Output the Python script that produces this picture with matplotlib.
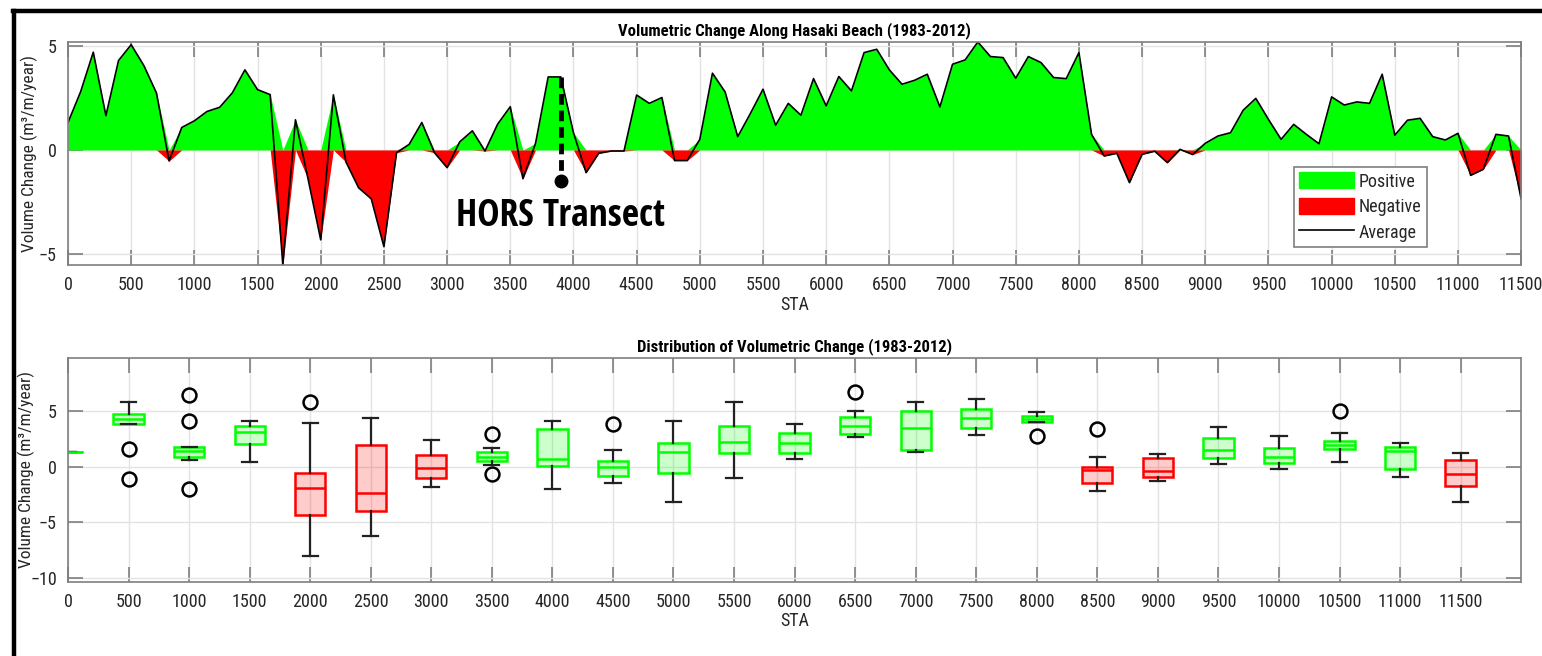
import numpy as np
import matplotlib.pyplot as plt
from matplotlib.patches import Patch
from matplotlib.lines import Line2D

plt.rcParams['font.family'] = ['Roboto Condensed', 'Liberation Sans', 'DejaVu Sans']

# average volume change every 100 m along the beach
sta = np.arange(0, 11600, 100)
avg = np.array([
    1.32, 2.8, 4.7, 1.65, 4.3, 5.06, 4.06, 2.74, -0.53, 1.08,
    1.4, 1.85, 2.05, 2.74, 3.85, 2.9, 2.66, -5.53, 1.45, -1.4,
    -4.32, 2.65, -0.58, -1.82, -2.35, -4.65, -0.13, 0.27, 1.32, -0.13,
    -0.85, 0.39, 0.92, -0.05, 1.24, 2.08, -1.38, 0.32, 3.51, 3.51,
    0.83, -1.09, -0.16, -0.05, -0.05, 2.64, 2.24, 2.52, -0.51, -0.51,
    0.51, 3.69, 2.79, 0.64, 1.75, 2.92, 1.19, 2.24, 1.67, 3.43,
    2.12, 3.53, 2.84, 4.68, 4.84, 3.85, 3.16, 3.35, 3.64, 2.07,
    4.12, 4.33, 5.19, 4.49, 4.44, 3.45, 4.49, 4.2, 3.48, 3.43,
    4.68, 0.75, -0.29, -0.16, -1.57, -0.21, -0.06, -0.61, 0.03, -0.22,
    0.32, 0.67, 0.83, 1.91, 2.48, 1.47, 0.51, 1.23, 0.75, 0.3,
    2.55, 2.16, 2.31, 2.24, 3.64, 0.71, 1.43, 1.52, 0.64, 0.48,
    0.8, -1.22, -0.93, 0.75, 0.67, -2.37,
])

# box statistics every 500 m
box_pos = np.arange(0, 12000, 500)
whislo = [1.31, 3.82, 0.6, 0.42, -8.0, -6.21, -1.85, 0.12, -2.0, -1.49, -3.16, -0.99,
          0.69, 2.69, 1.31, 2.84, 3.97, -2.18, -1.28, 0.24, -0.24, 0.45, -0.9, -3.16]
q1 = [1.31, 3.82, 0.84, 2.03, -4.36, -3.94, -1.01, 0.51, 0.06, -0.81, -0.54, 1.19,
      1.25, 2.96, 1.46, 3.49, 3.97, -1.46, -0.96, 0.75, 0.36, 1.55, -0.18, -1.73]
med = [1.31, 4.27, 1.4, 3.13, -1.88, -2.36, -0.15, 0.9, 0.69, 0.0, 1.31, 2.18,
       2.15, 3.67, 3.49, 4.33, 4.27, -0.33, -0.36, 1.46, 0.84, 1.94, 1.4, -0.63]
q3 = [1.31, 4.69, 1.79, 3.64, -0.54, 1.94, 1.04, 1.28, 3.34, 0.48, 2.09, 3.64,
      3.04, 4.42, 5.01, 5.16, 4.57, -0.06, 0.75, 2.54, 1.7, 2.33, 1.73, 0.6]
whishi = [1.31, 5.79, 1.79, 4.09, 3.94, 4.33, 2.39, 1.7, 4.09, 1.49, 4.12, 5.76,
          3.85, 5.01, 5.82, 6.03, 4.93, 0.9, 1.13, 3.58, 2.75, 3.01, 2.09, 1.19]
fliers = [[], [1.55, -1.07], [6.45, 4.12, -2.03], [], [5.79], [], [], [2.93, -0.66],
          [], [3.82], [], [], [], [6.72], [], [], [2.78], [3.4], [], [], [], [4.99], [], []]

GREEN = '#00ff00'
RED = '#ff0000'
GRAY = '#7f7f7f'
TXT = '#262626'

fig = plt.figure(figsize=(15.42, 6.56), dpi=100)
ax1 = fig.add_axes([0.0441, 0.596, 0.9424, 0.340])
ax2 = fig.add_axes([0.0441, 0.1133, 0.9424, 0.3405])


def style_axes(ax):
    ax.grid(True, color='#e3e3e3', linewidth=1)
    ax.set_axisbelow(True)
    for s in ax.spines.values():
        s.set_color(GRAY)
        s.set_linewidth(1.2)
    ax.tick_params(direction='in', length=11, width=1.2, color=GRAY,
                   top=True, right=True, labelsize=13, labelcolor=TXT, pad=8)


# ---- top: volumetric change along the beach
ax1.fill_between(sta, 0, np.maximum(avg, 0), color=GREEN, linewidth=0)
ax1.fill_between(sta, 0, np.minimum(avg, 0), color=RED, linewidth=0)
ax1.plot(sta, avg, color='black', linewidth=1.2)
ax1.set_xlim(0, 11500)
ax1.set_ylim(avg.min(), avg.max())
ax1.set_xticks(np.arange(0, 12000, 500))
ax1.set_yticks([-5, 0, 5])
style_axes(ax1)
ax1.set_title('Volumetric Change Along Hasaki Beach (1983-2012)', fontsize=12,
              fontweight='bold', pad=5)
ax1.set_xlabel('STA', fontsize=13, color=TXT, labelpad=1)
ax1.set_ylabel('Volume Change (m³/m/year)', fontsize=12.5, color=TXT, va='center')
ax1.yaxis.set_label_coords(-0.0265, 0.5)

ax1.plot([3900, 3900], [3.5, -1.5], color='black', linewidth=3.5, linestyle=(0, (2.2, 1.2)))
ax1.plot(3900, -1.5, 'o', color='black', markersize=9)
ax1.text(3900, -3.15, 'HORS Transect', fontsize=27, fontweight='bold',
         ha='center', va='center', family=['Open Sans Condensed', 'DejaVu Sans'])

handles = [Patch(facecolor=GREEN, edgecolor=GREEN), Patch(facecolor=RED, edgecolor=RED),
           Line2D([], [], color='black', linewidth=1.2)]
leg = ax1.legend(handles, ['Positive', 'Negative', 'Average'], loc='lower right',
                 bbox_to_anchor=(0.9353, 0.081), fontsize=13, fancybox=False,
                 framealpha=1, edgecolor=GRAY, handlelength=3.0, handleheight=1.0,
                 borderpad=0.3, labelspacing=0.4, handletextpad=0.3, borderaxespad=0)
leg.get_frame().set_linewidth(1.2)
for t in leg.get_texts():
    t.set_color(TXT)

# ---- bottom: distribution per 500 m block
stats = []
for i in range(len(box_pos)):
    stats.append(dict(whislo=whislo[i], q1=q1[i], med=med[i], q3=q3[i],
                      whishi=whishi[i], fliers=fliers[i]))

bp = ax2.bxp(stats, positions=box_pos, widths=250, patch_artist=True,
             manage_ticks=False, capwidths=125,
             whiskerprops=dict(color='#222222', linewidth=1.6),
             capprops=dict(color='#222222', linewidth=1.6),
             flierprops=dict(marker='o', markerfacecolor='none', markeredgecolor='black',
                             markersize=10, markeredgewidth=1.8))
for i, box in enumerate(bp['boxes']):
    neg = med[i] < 0
    c = RED if neg else GREEN
    box.set_facecolor((1, 0, 0, 0.2) if neg else (0, 1, 0, 0.2))
    box.set_edgecolor(c)
    box.set_linewidth(1.8)
    bp['medians'][i].set_color(c)
    bp['medians'][i].set_linewidth(1.8)

ax2.set_xlim(0, 12000)
ax2.set_ylim(-10.3, 9.7)
ax2.set_xticks(box_pos)
ax2.set_yticks([-10, -5, 0, 5])
style_axes(ax2)
ax2.set_title('Distribution of Volumetric Change (1983-2012)', fontsize=12,
              fontweight='bold', pad=5)
ax2.set_xlabel('STA', fontsize=13, color=TXT, labelpad=1)
ax2.set_ylabel('Volume Change (m³/m/year)', fontsize=12.5, color=TXT, va='center')
ax2.yaxis.set_label_coords(-0.0285, 0.5)

# black frame around the figure (top and left edges visible)
fig.add_artist(Line2D([12.5 / 1542, 1], [1 - 11 / 656, 1 - 11 / 656], color='black', linewidth=3.2))
fig.add_artist(Line2D([13.5 / 1542, 13.5 / 1542], [0, 1 - 11 / 656], color='black', linewidth=3.2))

fig.savefig('out.png', dpi=100)
